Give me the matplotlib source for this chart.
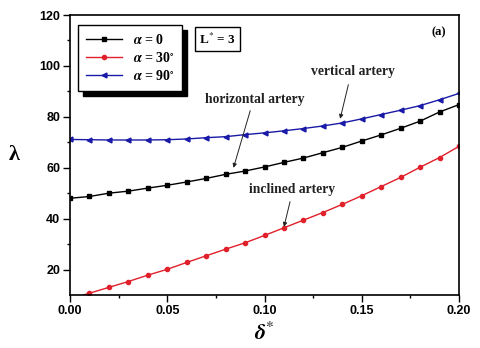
import matplotlib
matplotlib.use("Agg")
import matplotlib.pyplot as plt
from matplotlib.patches import Rectangle

delta = [0.00, 0.01, 0.02, 0.03, 0.04, 0.05, 0.06, 0.07, 0.08, 0.09, 0.10,
         0.11, 0.12, 0.13, 0.14, 0.15, 0.16, 0.17, 0.18, 0.19, 0.20]
lam_0 = [48.0, 48.7, 50.0, 50.8, 52.0, 53.1, 54.4, 55.8, 57.4, 58.7, 60.3,
         62.1, 63.8, 65.9, 68.0, 70.5, 72.9, 75.5, 78.3, 81.9, 84.8]
lam_30 = [8.4, 10.7, 13.0, 15.3, 17.8, 20.1, 22.8, 25.4, 28.0, 30.5, 33.4,
          36.4, 39.4, 42.4, 45.6, 49.0, 52.6, 56.2, 60.2, 64.0, 68.4]
lam_90 = [71.1, 71.0, 70.9, 70.9, 70.9, 71.0, 71.3, 71.8, 72.2, 73.0, 73.7,
          74.5, 75.4, 76.4, 77.6, 79.2, 80.9, 82.6, 84.4, 86.7, 89.2]
labels = [r'$\boldsymbol{\alpha}$ = 0', r'$\boldsymbol{\alpha}$ = 30$^{\circ}$',
          r'$\boldsymbol{\alpha}$ = 90$^{\circ}$']
xticks = [0.00, 0.05, 0.10, 0.15, 0.20]
xticklabels = ['0.00', '0.05', '0.10', '0.15', '0.20']
yticks = [20, 40, 60, 80, 100, 120]

plt.rcParams['mathtext.fontset'] = 'stix'
serif = 'Liberation Serif'
sans = 'Liberation Sans'

fig = plt.figure(figsize=(4.8, 3.48), dpi=100)
ax = fig.add_axes([70/480, 1-295/348, (459-70)/480, (295-15)/348])

ax.plot(delta, lam_0, '-s', color='black', lw=1, ms=3, label=labels[0])
ax.plot(delta, lam_30, '-o', color='#e0202a', lw=1, ms=3, label=labels[1])
ax.plot(delta, lam_90, '-<', color='#1a1aa8', lw=1, ms=3.5, label=labels[2])

ax.set_xlim(0, 0.20)
ax.set_ylim(10, 120)
ax.set_xticks(xticks)
ax.set_xticklabels(xticklabels)
ax.set_yticks(yticks)
ax.set_xticks([0.025, 0.075, 0.125, 0.175], minor=True)
ax.set_yticks([30, 50, 70, 90, 110], minor=True)
ax.tick_params(which='major', direction='out', length=5, width=1,
               labelsize=9, pad=2)
ax.tick_params(which='minor', direction='out', length=2.5, width=1)
for lab in ax.get_xticklabels() + ax.get_yticklabels():
    lab.set_fontfamily(sans)
    lab.set_fontweight('bold')
for s in ax.spines.values():
    s.set_linewidth(1.2)

fig.text(14/480, 1-155/348, 'λ', fontsize=16, fontweight='bold',
         family=serif, ha='center', va='center')
fig.text(264/480, 1-333/348, r'$\boldsymbol{\delta}^{*}$', fontsize=16,
         ha='center', va='center')

leg = ax.legend(loc='upper left', bbox_to_anchor=(78/480, 1-25/348),
                bbox_transform=fig.transFigure, frameon=True, fancybox=False,
                framealpha=1,
                prop={'family': serif, 'weight': 'bold', 'size': 10},
                handlelength=2.6, handletextpad=0.8, borderpad=0.55,
                labelspacing=0.3, borderaxespad=0)
leg.get_frame().set_edgecolor('black')
leg.get_frame().set_facecolor('white')
leg.get_frame().set_linewidth(1)
leg.set_zorder(6)

fig.canvas.draw()
bb = leg.get_window_extent()
shadow = Rectangle((bb.x0 + 5, bb.y0 - 5), bb.width, bb.height,
                   transform=None, facecolor='black', edgecolor='black',
                   zorder=5.5, clip_on=False)
ax.add_patch(shadow)

ax.text(217.5/480, 1-39/348, r'L$^{*}$ = 3', transform=fig.transFigure,
        family=serif, fontweight='bold', fontsize=9.5, ha='center',
        va='center',
        bbox=dict(boxstyle='square,pad=0.3', facecolor='white',
                  edgecolor='black', lw=1))
ax.text(439/480, 1-32/348, '(a)', transform=fig.transFigure, family=serif,
        fontweight='bold', fontsize=9, ha='center', va='center')

def annot(text, tx, ty, ax0, ay0, ax1, ay1):
    fig.text(tx/480, 1-ty/348, text, family=serif, fontweight='bold',
             fontsize=9.8, ha='center', va='center', color='#222222')
    ax.annotate('', xy=(ax1/480, 1-ay1/348), xytext=(ax0/480, 1-ay0/348),
                xycoords='figure fraction', textcoords='figure fraction',
                arrowprops=dict(arrowstyle='-|>', color='#222222', lw=0.7,
                                mutation_scale=6))

annot('vertical artery', 353, 72, 349, 82, 339.5, 121.5)
annot('horizontal artery', 255, 99, 251, 108, 232.7, 170.5)
annot('inclined artery', 292, 189, 290.7, 199, 283.3, 229.5)

fig.savefig('out.png', dpi=100)
